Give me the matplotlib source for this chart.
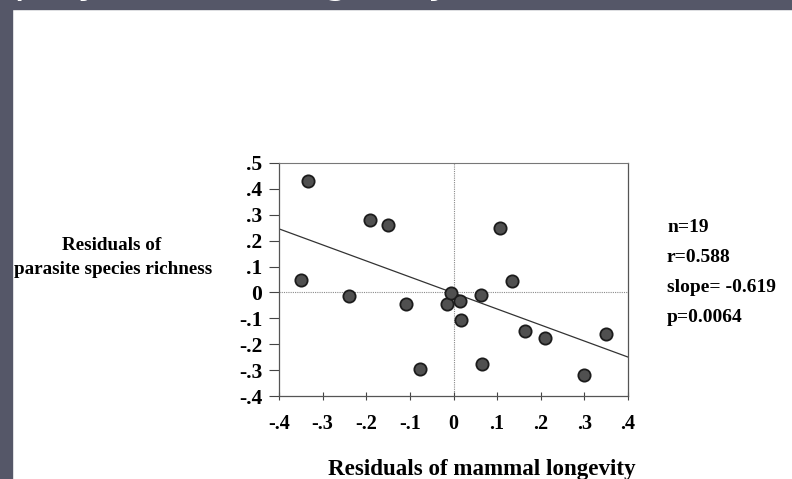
import matplotlib.pyplot as plt
from matplotlib.patches import Rectangle
import numpy as np

# residuals
longevity = [-0.334, -0.349, -0.240, -0.192, -0.150, -0.110, -0.076, -0.016, -0.005,
             0.014, 0.018, 0.062, 0.066, 0.107, 0.133, 0.163, 0.209, 0.299, 0.350]
richness = [0.429, 0.049, -0.014, 0.279, 0.260, -0.046, -0.295, -0.046, -0.003,
            -0.034, -0.108, -0.008, -0.275, 0.247, 0.046, -0.149, -0.175, -0.319, -0.161]

slope = -0.619
intercept = -0.002
stats = ["n=19", "r=0.588", "slope= -0.619", "p=0.0064"]

xticks = [-0.4, -0.3, -0.2, -0.1, 0, 0.1, 0.2, 0.3, 0.4]
xlabels = ["-.4", "-.3", "-.2", "-.1", "0", ".1", ".2", ".3", ".4"]
yticks = [0.5, 0.4, 0.3, 0.2, 0.1, 0, -0.1, -0.2, -0.3, -0.4]
ylabels = [".5", ".4", ".3", ".2", ".1", "0", "-.1", "-.2", "-.3", "-.4"]

plt.rcParams["font.family"] = ["Liberation Serif", "DejaVu Serif"]
plt.rcParams["font.weight"] = "bold"

fig = plt.figure(figsize=(7.92, 4.79), dpi=100)
fig.patch.set_facecolor("white")

frame = "#555768"
fig.patches.append(Rectangle((0, 0), 12 / 792, 1, transform=fig.transFigure, color=frame, zorder=0))
fig.patches.append(Rectangle((0, 1 - 9 / 479), 1, 9 / 479, transform=fig.transFigure, color=frame, zorder=0))
# slide title, only its descenders show above the white area
fig.text(14 / 792, 1 + 8 / 479, "play a role: longevity", color="white",
         fontsize=30, family="DejaVu Sans", weight="normal", va="baseline", ha="left")

ax = fig.add_axes([279 / 792, (479 - 396) / 479, 349 / 792, 233 / 479])
ax.set_xlim(-0.4, 0.4)
ax.set_ylim(-0.4, 0.5)

ax.axhline(0, color="#8a8a8a", lw=0.8, ls=(0, (1, 1)), zorder=1)
ax.axvline(0, color="#8a8a8a", lw=0.8, ls=(0, (1, 1)), zorder=1)

xs = np.array([-0.4, 0.4])
ax.plot(xs, intercept + slope * xs, color="#333333", lw=0.9, zorder=2)

ax.scatter(longevity, richness, s=78, facecolor="#505050", edgecolor="#1c1c1c",
           linewidth=1.3, zorder=3)

ax.set_xticks(xticks)
ax.set_xticklabels(xlabels)
ax.set_yticks(yticks)
ax.set_yticklabels(ylabels)
ax.tick_params(axis="x", length=6, direction="inout", labelsize=14.5, pad=10, color="#444444")
ax.tick_params(axis="y", length=7, direction="out", labelsize=15.5, pad=5, color="#444444")
for side in ["left", "bottom", "right"]:
    ax.spines[side].set_color("#555555")
    ax.spines[side].set_linewidth(0.9)
ax.spines["top"].set_color("#777777")
ax.spines["top"].set_linewidth(0.8)

fig.text(112 / 792, 1 - 245 / 479, "Residuals of", ha="center", va="center", fontsize=13.8)
fig.text(113 / 792, 1 - 270 / 479, "parasite species richness", ha="center", va="center", fontsize=13.8)
fig.text(482 / 792, 1 - 470 / 479, "Residuals of mammal longevity", ha="center", va="center", fontsize=16.6)

for i, s in enumerate(stats):
    fig.text(667 / 792, 1 - (227 + 30 * i) / 479, s, ha="left", va="center", fontsize=14)

fig.savefig("out.png", dpi=100)
